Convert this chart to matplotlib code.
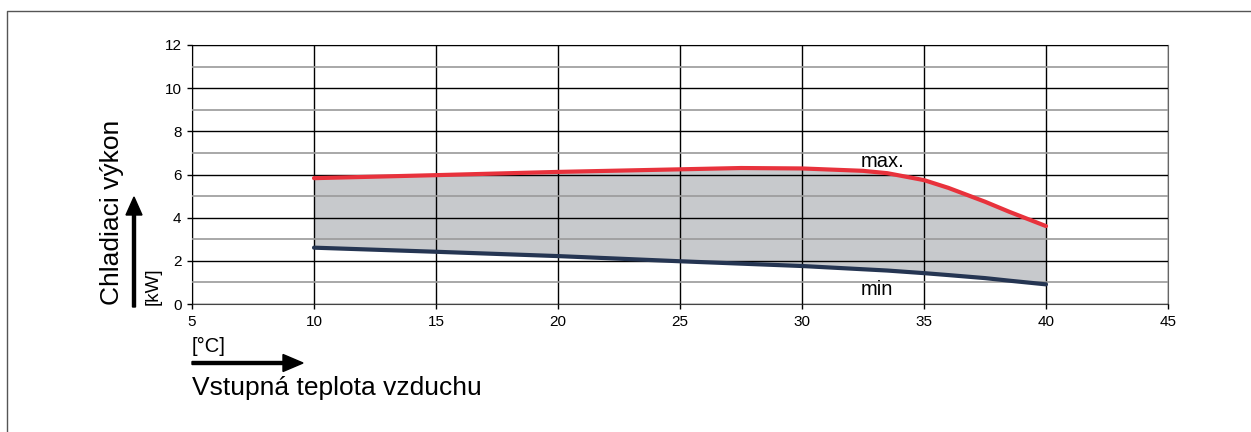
import matplotlib
matplotlib.use("Agg")
import matplotlib.pyplot as plt
import matplotlib.patches as mpatches
import matplotlib.transforms as mtransforms
from matplotlib.lines import Line2D

plt.rcParams['font.family'] = ['Liberation Sans', 'DejaVu Sans']

# data
temp = [10, 15, 20, 25, 27.5, 30, 32.5, 33.5, 35, 36, 37.5, 38.5, 40]
cap_max = [5.83, 5.97, 6.12, 6.24, 6.30, 6.28, 6.17, 6.06, 5.74, 5.38, 4.74, 4.27, 3.61]
cap_min = [2.61, 2.42, 2.22, 1.98, 1.87, 1.76, 1.61, 1.55, 1.43, 1.34, 1.20, 1.08, 0.91]
x_ticks = [5, 10, 15, 20, 25, 30, 35, 40, 45]
y_ticks = [0, 2, 4, 6, 8, 10, 12]
y_minor = [1, 3, 5, 7, 9, 11]

W, H = 1251, 432
fig = plt.figure(figsize=(W / 100, H / 100), dpi=100)
# pixel coords measured from the top-left corner of the image
px = mtransforms.Affine2D().scale(1 / W, -1 / H).translate(0, 1) + fig.transFigure

ax = fig.add_axes([192 / W, 1 - 304 / H, (1168 - 192) / W, (304 - 45) / H])
ax.fill_between(temp, cap_min, cap_max, color='#c7c9cc', linewidth=0, zorder=1)
ax.plot(temp, cap_max, color='#e8323c', lw=3, solid_capstyle='round', zorder=4)
ax.plot(temp, cap_min, color='#253552', lw=3, solid_capstyle='round', zorder=4)

ax.set_xlim(5, 45)
ax.set_ylim(0, 12)
ax.set_xticks(x_ticks)
ax.set_yticks(y_ticks)
ax.set_yticks(y_minor, minor=True)
ax.set_axisbelow(False)
ax.grid(which='major', color='black', lw=1.0)
ax.grid(which='minor', axis='y', color='#9a9a9a', lw=1.2)
ax.tick_params(which='major', direction='out', length=3.6, width=1, labelsize=11, pad=4)
ax.tick_params(which='minor', length=0)
ax.spines['left'].set_color('black')
ax.spines['bottom'].set_color('#444444')
ax.spines['top'].set_color('#666666')
ax.spines['right'].set_color('#666666')

ax.text(32.4, 6.34, 'max.', fontsize=14.5, ha='left', va='baseline', zorder=5)
ax.text(32.4, 0.42, 'min', fontsize=14.5, ha='left', va='baseline', zorder=5)

# axis captions and arrows
fig.text(119, 305, 'Chladiaci výkon', transform=px, fontsize=19, rotation=90,
         rotation_mode='anchor', ha='left', va='baseline')
fig.text(158, 305, '[kW]', transform=px, fontsize=13.5, rotation=90,
         rotation_mode='anchor', ha='left', va='baseline')
fig.add_artist(mpatches.FancyArrow(134, 307, 0, -110, width=3, head_width=16,
                                   head_length=18, length_includes_head=True,
                                   color='black', transform=px))
fig.text(192, 352, '[°C]', transform=px, fontsize=14.5, ha='left', va='baseline')
fig.add_artist(mpatches.FancyArrow(192, 363, 111, 0, width=3, head_width=17,
                                   head_length=20, length_includes_head=True,
                                   color='black', transform=px))
fig.text(192, 395, 'Vstupná teplota vzduchu', transform=px, fontsize=19,
         ha='left', va='baseline')

# outer frame (left and top edges)
fig.add_artist(Line2D([7, 7, W + 5], [H + 5, 11, 11], transform=px,
                      color='#555555', lw=1))

fig.savefig('out.png', dpi=100)
